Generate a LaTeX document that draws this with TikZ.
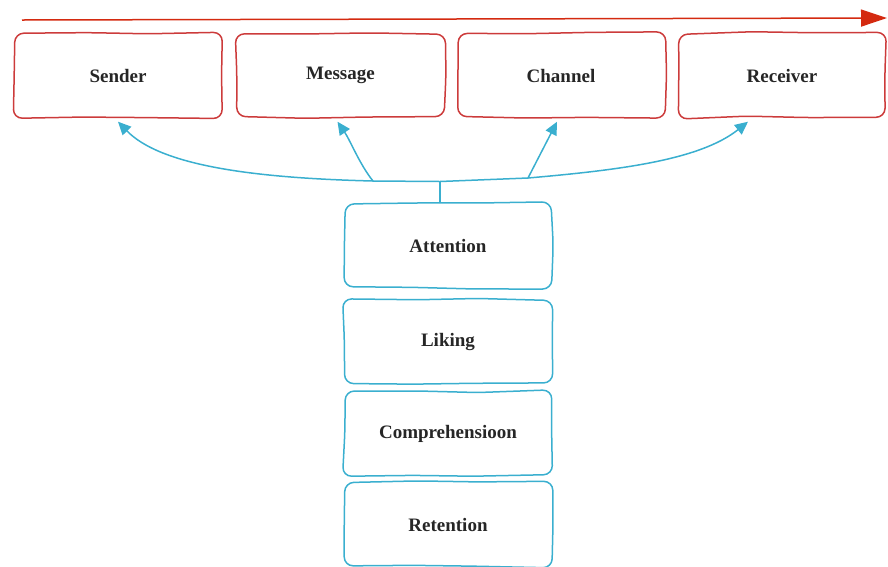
\documentclass[tikz,border=0pt]{standalone}
\usepackage{fontspec}
\setmainfont{Liberation Serif}
\usetikzlibrary{arrows.meta}
\definecolor{boxred}{HTML}{CC3B3B}
\definecolor{arrred}{HTML}{D42A10}
\definecolor{lineblue}{HTML}{3AAFCF}
\tikzset{
  boxnode/.style={minimum width=208pt, minimum height=84pt, inner sep=0pt,
    font=\bfseries\fontsize{19}{21}\selectfont, text=black!85},
  sketchline/.style={line width=1.5pt, rounded corners=9pt, line join=round},
  conn/.style={draw=lineblue, line width=1.5pt},
  carrow/.style={conn, -{Triangle[length=13pt,width=12pt]}},
}
\newcommand\sketchbox[2]{%
  \pgfmathsetmacro\skA{1.6*rand}\pgfmathsetmacro\skB{1.6*rand}%
  \pgfmathsetmacro\skC{1.6*rand}\pgfmathsetmacro\skD{1.6*rand}%
  \pgfmathsetmacro\skE{1.6*rand}\pgfmathsetmacro\skF{1.6*rand}%
  \pgfmathsetmacro\skG{1.6*rand}\pgfmathsetmacro\skH{1.6*rand}%
  \draw[sketchline, draw=#2]
    ([xshift=\skA pt,yshift=\skB pt]#1.north west)
    -- ([xshift=-30pt,yshift=\skC pt]#1.north)
    -- ([xshift=30pt,yshift=\skD pt]#1.north)
    -- ([xshift=\skE pt,yshift=\skA pt]#1.north east)
    -- ([xshift=\skF pt,yshift=\skG pt]#1.east)
    -- ([xshift=\skB pt,yshift=\skH pt]#1.south east)
    -- ([xshift=25pt,yshift=\skE pt]#1.south)
    -- ([xshift=-35pt,yshift=\skC pt]#1.south)
    -- ([xshift=\skD pt,yshift=\skF pt]#1.south west)
    -- ([xshift=\skG pt,yshift=\skH pt]#1.west)
    -- cycle;}
\begin{document}
\begin{tikzpicture}[x=1pt,y=-1pt]
\pgfmathsetseed{11}
\useasboundingbox (0,0) rectangle (888,566);
% top row
\node[boxnode] (sender)   at (118,75.5) {Sender};
\node[boxnode] (message)  at (340.5,75.5) {Message};
\node[boxnode] (channel)  at (561,75.5) {Channel};
\node[boxnode] (receiver) at (782,75.5) {Receiver};
% column
\node[boxnode] (attention) at (448,245.5) {Attention};
\node[boxnode] (liking)    at (448,341.5) {Liking};
\node[boxnode] (compr)     at (448,433.5) {Comprehensioon};
\node[boxnode] (retention) at (448,524.5) {Retention};
\sketchbox{sender}{boxred}
\sketchbox{message}{boxred}
\sketchbox{channel}{boxred}
\sketchbox{receiver}{boxred}
\sketchbox{attention}{lineblue}
\sketchbox{liking}{lineblue}
\sketchbox{compr}{lineblue}
\sketchbox{retention}{lineblue}
% red flow arrow
\coordinate (rs) at (22,20);
\coordinate (re) at (887,18);
\draw[arrred, line width=1.5pt, -{Triangle[length=26pt,width=17pt]}] (rs) -- (re);
% blue connectors
\coordinate (jl) at (373,181);
\coordinate (jm) at (440,181.5);
\coordinate (jr) at (528,178);
\draw[conn] (attention.north -| jm) -- (jm);
\draw[conn] (jl) -- (jm) -- (jr);
\draw[carrow] (jl) .. controls (250,178) and (160,165) .. ([yshift=-4]sender.south);
\draw[carrow] (jl) .. controls (360,165) and (350,140) .. ([xshift=-3,yshift=-4]message.south);
\draw[carrow] (jr) -- ([xshift=-4,yshift=-4]channel.south);
\draw[carrow] (jr) .. controls (620,170) and (700,160) .. ([xshift=-34,yshift=-4]receiver.south);
\end{tikzpicture}
\end{document}
